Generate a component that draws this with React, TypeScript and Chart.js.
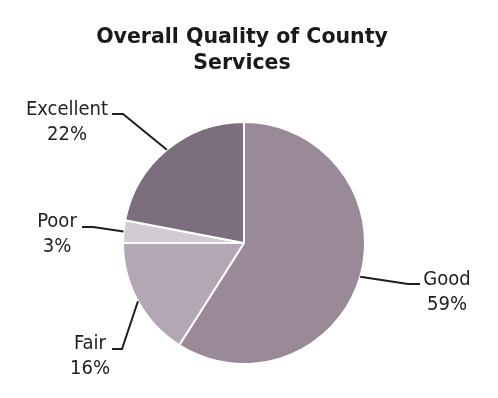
import React, { useEffect, useRef } from "react";
import { Chart, registerables } from "chart.js";

Chart.register(...registerables);

const categories = ["Good", "Fair", "Poor", "Excellent"];
const percents = [59, 16, 3, 22];
const colors = ["#9a8a98", "#b3a7b3", "#d3cbd3", "#7b6f7e"];
const titleLines = ["Overall Quality of County", "Services"];

// label layout: text center x, first baseline y, leader start, elbow
const labelLayout = [
  { tx: 447, ty: 285, sx: 420, sy: 284, ex: 408, ey: 284 },
  { tx: 90, ty: 349, sx: 112, sy: 349, ex: 122, ey: 349 },
  { tx: 57, ty: 227, sx: 82, sy: 227, ex: 93, ey: 227 },
  { tx: 67, ty: 115, sx: 112, sy: 114, ex: 123, ey: 114 },
];

const FONT = '"DejaVu Sans Condensed", "DejaVu Sans", sans-serif';
const TITLE_FONT = '"DejaVu Sans", sans-serif';

const labelPlugin = {
  id: "labelPlugin",
  afterDraw(chart: any) {
    const ctx = chart.ctx;
    ctx.save();
    ctx.fillStyle = "#1a1a1a";
    ctx.textAlign = "center";
    ctx.textBaseline = "alphabetic";
    ctx.font = `bold 20.5px ${TITLE_FONT}`;
    ctx.fillText(titleLines[0], 242, 43);
    ctx.fillText(titleLines[1], 242, 69);

    const meta = chart.getDatasetMeta(0);
    ctx.font = `20px ${FONT}`;
    meta.data.forEach((arc: any, i: number) => {
      const L = labelLayout[i];
      const mid = (arc.startAngle + arc.endAngle) / 2;
      const px = arc.x + Math.cos(mid) * arc.outerRadius;
      const py = arc.y + Math.sin(mid) * arc.outerRadius;
      ctx.strokeStyle = "#1f1f1f";
      ctx.lineWidth = 2;
      ctx.beginPath();
      ctx.moveTo(L.sx, L.sy);
      ctx.lineTo(L.ex, L.ey);
      ctx.lineTo(px, py);
      ctx.stroke();
      ctx.fillStyle = "#222222";
      ctx.fillText(categories[i], L.tx, L.ty);
      ctx.fillText(percents[i] + "%", L.tx, L.ty + 25);
    });
    ctx.restore();
  },
};

export default function App() {
  const ref = useRef<HTMLCanvasElement>(null);
  useEffect(() => {
    if (!ref.current) return;
    const chart = new Chart(ref.current, {
      type: "pie",
      data: {
        labels: categories,
        datasets: [
          {
            data: percents,
            backgroundColor: colors,
            borderColor: "#ffffff",
            borderWidth: 2,
          },
        ],
      },
      options: {
        animation: false,
        responsive: false,
        maintainAspectRatio: false,
        layout: { padding: { left: 122, right: 132, top: 121, bottom: 33 } },
        plugins: {
          legend: { display: false },
          title: { display: false },
          tooltip: { enabled: false },
        },
      },
      plugins: [labelPlugin],
    });
    return () => chart.destroy();
  }, []);
  return (
    <div style={{ position: "fixed", left: 0, top: 0, width: 498, height: 398, background: "#fff" }}>
      <canvas ref={ref} width={498} height={398} style={{ width: 498, height: 398 }} />
    </div>
  );
}
